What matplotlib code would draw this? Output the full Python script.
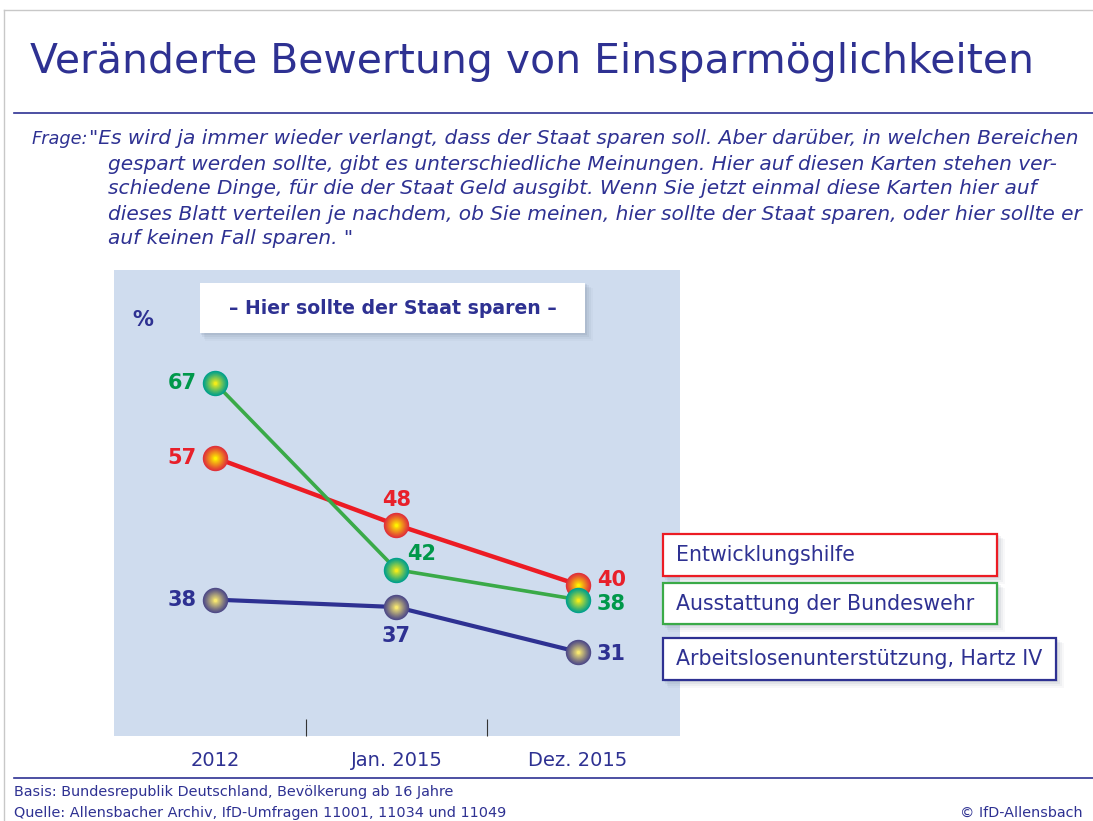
import numpy as np
import matplotlib
matplotlib.use("Agg")
import matplotlib.pyplot as plt
from matplotlib.patches import Rectangle
from matplotlib.colors import to_rgb

# data
periods = ["2012", "Jan. 2015", "Dez. 2015"]
series_names = ["Entwicklungshilfe", "Ausstattung der Bundeswehr",
                "Arbeitslosenunterstützung, Hartz IV"]
entwicklung = [57, 48, 40]
bundeswehr = [67, 42, 38]
hartz = [38, 37, 31]

title = "Veränderte Bewertung von Einsparmöglichkeiten"
question = ['"Es wird ja immer wieder verlangt, dass der Staat sparen soll. Aber darüber, in welchen Bereichen',
            'gespart werden sollte, gibt es unterschiedliche Meinungen. Hier auf diesen Karten stehen ver-',
            'schiedene Dinge, für die der Staat Geld ausgibt. Wenn Sie jetzt einmal diese Karten hier auf',
            'dieses Blatt verteilen je nachdem, ob Sie meinen, hier sollte der Staat sparen, oder hier sollte er',
            'auf keinen Fall sparen. "']
footer = ["Basis: Bundesrepublik Deutschland, Bevölkerung ab 16 Jahre",
          "Quelle: Allensbacher Archiv, IfD-Umfragen 11001, 11034 und 11049"]

NAVY = "#2E3192"
BG = "#CFDCEE"
line_cols = ["#EC1C24", "#3AAA48", "#2E3192"]
label_cols = ["#E8202A", "#00984A", "#2E3192"]
ball_outer = ["#E0303A", "#00A08C", "#4E4A88"]
ball_inner = ["#FFF200", "#F2EC1A", "#F8E870"]

W, H = 1093, 821
fig = plt.figure(figsize=(W / 100, H / 100), dpi=100)
fig.patch.set_facecolor("white")

# decoration layer in pixel coordinates
deco = fig.add_axes([0, 0, 1, 1], zorder=0)
deco.set_xlim(0, W)
deco.set_ylim(H, 0)
deco.axis("off")

deco.plot([4, W], [10, 10], color="#C8C8C8", lw=1)
deco.plot([4, 4], [10, H], color="#C8C8C8", lw=1)
deco.plot([14, W], [113, 113], color=NAVY, lw=1.2)
deco.plot([14, W], [778, 778], color=NAVY, lw=1.2)

fig.text(30 / W, 1 - 62 / H, title, fontsize=29.4, color=NAVY, va="center", ha="left")

fig.text(32 / W, 1 - 139 / H, "Frage:", fontsize=12.8, style="italic", color=NAVY, va="center")
for i, ln in enumerate(question):
    x0 = 89 if i == 0 else 108
    fig.text(x0 / W, 1 - (139 + 25 * i) / H, ln, fontsize=14.5, style="italic",
             color=NAVY, va="center")

fig.text(14 / W, 1 - 792 / H, footer[0], fontsize=10.4, color=NAVY, va="center")
fig.text(14 / W, 1 - 813 / H, footer[1], fontsize=10.4, color=NAVY, va="center")
fig.text(1083 / W, 1 - 813 / H, "© IfD-Allensbach", fontsize=10.4, color=NAVY,
         va="center", ha="right")

# chart
ax = fig.add_axes([114 / W, 1 - 736 / H, 566 / W, 466 / H], zorder=1)
ax.set_facecolor(BG)
for s in ax.spines.values():
    s.set_visible(False)
ax.set_xlim(-0.556, 2.562)
ax.set_ylim(19.75, 82.1)
ax.set_yticks([])
x = np.arange(len(periods))
ax.set_xticks(x)
ax.set_xticklabels(periods, fontsize=14, color=NAVY)
ax.tick_params(axis="x", length=0, pad=11)
ax.set_xticks([0.5, 1.5], minor=True)
ax.tick_params(axis="x", which="minor", direction="in", length=12, width=0.8, color="#333333")

all_series = [entwicklung, bundeswehr, hartz]
lws = [3.2, 2.6, 3.0]
draw_order = [2, 0, 1]
for k in draw_order:
    vals = all_series[k]
    ax.plot(x, vals, color=line_cols[k], lw=lws[k], zorder=2 + k, solid_capstyle="round")
    c0 = np.array(to_rgb(ball_outer[k]))
    c1 = np.array(to_rgb(ball_inner[k]))
    n = 18
    for j in range(n):
        t = j / (n - 1)
        size = 330 * (1 - t) ** 1.7 + 5
        w = t ** 1.2
        col = c0 * (1 - w) + c1 * w
        ax.scatter(x, vals, s=size, color=col, zorder=5 + k * 0.1 + j * 0.001, linewidths=0)

# value labels
offsets = [
    [(-13, 0, "right"), (0, 18, "center"), (13.5, 3.6, "left")],
    [(-13, 0, "right"), (8, 11, "left"), (13.5, -3, "left")],
    [(-13, 0, "right"), (0, -21, "center"), (13.5, -1.5, "left")],
]
for k, vals in enumerate(all_series):
    for i, v in enumerate(vals):
        dx, dy, ha = offsets[k][i]
        ax.annotate(str(v), (x[i], v), xytext=(dx, dy), textcoords="offset points",
                    ha=ha, va="center", fontsize=15, fontweight="bold",
                    color=label_cols[k], zorder=10)

ax.text(143, 320, "%", transform=deco.transData, fontsize=15, fontweight="bold",
        color=NAVY, ha="center", va="center")

# overlay for boxes on top of the chart
top = fig.add_axes([0, 0, 1, 1], zorder=3)
top.set_xlim(0, W)
top.set_ylim(H, 0)
top.axis("off")
top.patch.set_alpha(0)


def shadow_box(x0, y0, w, h, edge, lw):
    for d, a in [(8, 0.04), (6, 0.06), (4, 0.08), (2, 0.1)]:
        top.add_patch(Rectangle((x0 + d * 0.6, y0 + d * 0.6), w + d * 0.4, h + d * 0.4,
                                facecolor="#50607A", edgecolor="none", alpha=a))
    top.add_patch(Rectangle((x0, y0), w, h, facecolor="white", edgecolor=edge, lw=lw))


shadow_box(200, 283, 385, 50, "white", 0)
top.text(393, 308, "– Hier sollte der Staat sparen –", fontsize=13.6, fontweight="bold",
         color=NAVY, ha="center", va="center")

boxes = [(663, 534, 334, 42), (663, 583, 334, 41), (663, 638, 393, 42)]
for k, name in enumerate(series_names):
    bx, by, bw, bh = boxes[k]
    shadow_box(bx, by, bw, bh, line_cols[k], 1.6)
    top.text(bx + 13, by + bh / 2, name, fontsize=14.8, color=NAVY, ha="left", va="center")

fig.savefig("out.png", dpi=100)
